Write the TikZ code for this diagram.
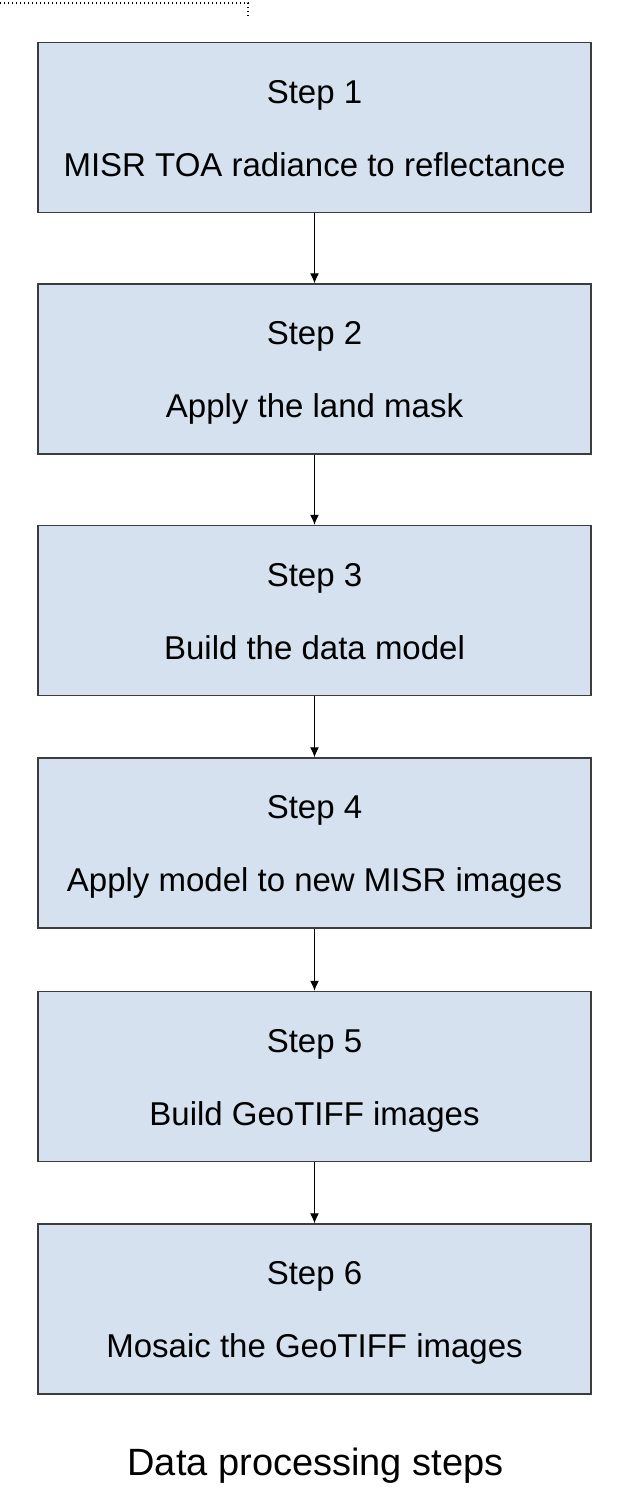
\documentclass[tikz,border=0pt]{standalone}
\usepackage{fontspec}
\setmainfont{Liberation Sans}
\usepackage{xcolor}
\usepackage{tikz}
\usetikzlibrary{arrows, arrows.meta}
\definecolor{boxfill}{RGB}{214,225,240}
\definecolor{boxline}{RGB}{60,60,60}
\tikzset{stepbox/.style={rectangle, draw=boxline, fill=boxfill, line width=1.5pt,
    minimum width=553pt, minimum height=170pt, align=center,
    text height=97pt, text depth=0pt,
    font=\fontsize{33}{73}\selectfont}}

\begin{document}
\begin{tikzpicture}[x=1pt, y=1pt]
\useasboundingbox (0,0) rectangle (628,-1508);

\coordinate (d1) at (0,-3);
\coordinate (d2) at (248,-3);
\coordinate (d3) at (248,-16);
\draw[line width=1.2pt, dash pattern=on 1.2pt off 2.8pt] (d1)--(d2)--(d3);

\foreach \n/\y/\t in {1/127.5/MISR TOA radiance to reflectance,
                      2/369/Apply the land mask,
                      3/610.5/Build the data model,
                      4/843/Apply model to new MISR images,
                      5/1076.5/Build GeoTIFF images,
                      6/1309/Mosaic the GeoTIFF images}
  \node[stepbox] (s\n) at (314.5,-\y) {Step \n\\\t};

\foreach \a/\b in {1/2, 2/3, 3/4, 4/5, 5/6}
  \draw[line width=1pt, -{Latex[length=10pt, width=9pt]}] (s\a)--(s\b);

\node[anchor=base, font=\fontsize{38}{46}\selectfont] (title) at (315.5,-1475) {Data processing steps};

\end{tikzpicture}
\end{document}
